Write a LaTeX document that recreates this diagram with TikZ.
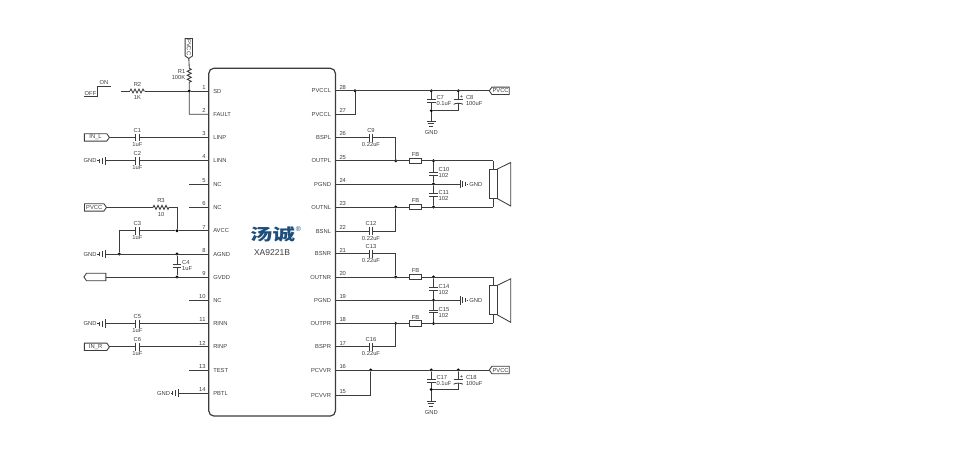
\documentclass[tikz,border=0pt]{standalone}
\usepackage{fontspec}
\setmainfont{Liberation Sans}
\newfontfamily\cjk{Noto Sans CJK SC}
\usetikzlibrary{shapes.symbols}
\usetikzlibrary{decorations.pathmorphing}
\definecolor{WIRE}{HTML}{3C3C3C}
\definecolor{LOGO}{HTML}{1D4F7C}
\tikzset{
	every node/.style = {font=\fontsize{5.8pt}{6pt}\selectfont, text=WIRE, inner sep=0pt, outer sep=0pt},
	wire/.style = {draw=WIRE, line width=0.85pt},
	lab/.style = {anchor=center},
	labw/.style = {anchor=west},
	dot/.style = {circle, fill=black, minimum size=3.2pt},
	tag/.style = {signal, draw=WIRE, line width=0.85pt, signal from=nowhere, signal pointer angle=110, minimum height=7.4pt, font=\fontsize{5.8pt}{6pt}\selectfont},
	fbbox/.style = {rectangle, draw=WIRE, line width=0.85pt, fill=white, minimum width=12.4pt, minimum height=5.6pt},
	res/.style = {wire, decorate, decoration={zigzag, segment length=4pt, amplitude=2pt}}
}
% ground bars, along +x before turning
\newcommand{\gndbars}[3]{
	\begin{scope}[shift={(#1,#2)}, rotate=#3]
		\draw[wire] (0,-4.2) -- (0,4.2) (2.9,-3) -- (2.9,3) (5.6,-2) -- (5.6,2);
	\end{scope}
}
\begin{document}
\begin{tikzpicture}[x=1pt, y=-1pt]
		\useasboundingbox (0,0) rectangle (959,461);
		% chip outline
		\draw[draw=WIRE, line width=1.2pt, rounded corners=5pt] (208.8,68.3) rectangle (335.4,416);
		\node[font=\cjk\bfseries\fontsize{16pt}{16pt}\selectfont, text=LOGO, xscale=1.4] (logo) at (272.5,234) {汤诚};
		\node[font=\fontsize{7pt}{7pt}\selectfont, text=LOGO] (reg) at (298.5,229) {®};
		\node[font=\fontsize{8.5pt}{9pt}\selectfont] (part) at (272,252.7) {XA9221B};
		% pins left
		\foreach \n/\yy/\pin in {1/91/SD, 2/114.2/FAULT, 3/137.4/LINP, 4/160.7/LINN, 5/184/NC, 6/207.4/NC, 7/230.8/AVCC,
			8/254/AGND, 9/277/GVDD, 10/300.3/NC, 11/323.6/RINN, 12/346.8/RINP, 13/370/TEST, 14/393.2/PBTL}{
			\coordinate (L\n) at (208.8,\yy);
			\node[anchor=base east] (Ln\n) at (205.5,\yy-1.8) {\n};
			\node[anchor=base west] (Lp\n) at (213.3,\yy+2) {\pin};
		}
		% pins right
		\foreach \n/\yy/\pin in {28/90.8/PVCCL, 27/114/PVCCL, 26/137.6/BSPL, 25/160.8/OUTPL, 24/184/PGND, 23/207/OUTNL, 22/231/BSNL,
			21/253.8/BSNR, 20/277/OUTNR, 19/300.3/PGND, 18/323.4/OUTPR, 17/346.8/BSPR, 16/370/PCVVR, 15/395/PCVVR}{
			\coordinate (R\n) at (335.4,\yy);
			\node[anchor=base west] (Rn\n) at (339.5,\yy-1.8) {\n};
			\node[anchor=base east] (Rp\n) at (331,\yy+2) {\pin};
		}
		% caps lying down
		\foreach \nm/\xx/\yy/\val in {C1/137.4/137.4/1uF, C2/137.4/160.7/1uF, C3/137.4/230.8/1uF, C5/137.4/323.6/1uF, C6/137.4/346.8/1uF,
			C9/371/137.6/0.22uF, C12/371/231/0.22uF, C13/371/253.8/0.22uF, C16/371/346.8/0.22uF}{
			\coordinate (\nm a) at (\xx-1.6,\yy);
			\coordinate (\nm b) at (\xx+1.6,\yy);
			\draw[wire] (\xx-1.6,\yy-3.9) -- (\xx-1.6,\yy+3.9) (\xx+1.6,\yy-3.9) -- (\xx+1.6,\yy+3.9);
			\node[lab] (\nm n) at (\xx,\yy-7.3) {\nm};
			\node[lab] (\nm v) at (\xx,\yy+7) {\val};
		}
		% caps standing
		\foreach \nm/\xx/\yy/\yl/\val in {C4/177/266/262.7/1uF, C7/431.3/100.8/98/0.1uF, C10/433.5/173.8/169.6/102, C11/433.5/195.2/192.4/102,
			C14/433.5/288.8/286/102, C15/433.5/311.5/309/102, C17/431.3/380.8/377.6/0.1uF}{
			\coordinate (\nm a) at (\xx,\yy-1.4);
			\coordinate (\nm b) at (\xx,\yy+1.4);
			\draw[wire] (\xx-4.3,\yy-1.4) -- (\xx+4.3,\yy-1.4) (\xx-4.3,\yy+1.4) -- (\xx+4.3,\yy+1.4);
			\node[labw] (\nm n) at (\xx+5.2,\yl) {\nm};
			\node[labw] (\nm v) at (\xx+5.2,\yl+6) {\val};
		}
		% polar caps
		\foreach \nm/\yy in {C8/101.3, C18/381.2}{
			\coordinate (\nm a) at (458.3,\yy-1.4);
			\coordinate (\nm b) at (458.3,\yy+2);
			\draw[wire] (453.6,\yy-1.4) -- (463,\yy-1.4);
			\draw[wire] (453.6,\yy+3) .. controls (456,\yy+1.6) and (460.6,\yy+1.6) .. (463,\yy+3);
			\node[font=\fontsize{5pt}{5pt}\selectfont\bfseries] (\nm p) at (461.7,\yy-4.6) {+};
			\node[labw] (\nm n) at (466,\yy-3.3) {\nm};
		}
		\node[labw] (C8v) at (466,103.9) {100uF};
		\node[labw] (C18v) at (466,383.8) {100uF};
		% resistors
		\coordinate (R1a) at (189.3,68.3);
		\coordinate (R1b) at (189.3,82.8);
		\coordinate (R2a) at (130,91);
		\coordinate (R2b) at (145,91);
		\coordinate (R3a) at (153,207.4);
		\coordinate (R3b) at (169,207.4);
		\draw[res] (R1a) -- (R1b);
		\draw[res] (R2a) -- (R2b);
		\draw[res] (R3a) -- (R3b);
		\node[anchor=east] (R1n) at (185.3,71.5) {R1};
		\node[anchor=east] (R1v) at (185.3,78) {100K};
		\node[lab] (R2n) at (137.5,84) {R2};
		\node[lab] (R2v) at (137.5,97.5) {1K};
		\node[lab] (R3n) at (161,200) {R3};
		\node[lab] (R3v) at (161,214.5) {10};
		% signal tags
		\node[tag, signal to=east, rotate=-90, minimum width=20pt] (PVtop) at (188.8,47.2) {PVCC};
		\node[tag, signal to=east, minimum width=25pt] (INL) at (95.6,137.4) {IN\_L};
		\node[tag, signal to=east, minimum width=22pt] (PVl) at (94.2,207.4) {PVCC};
		\node[tag, signal to=west, minimum width=22pt] (VDD) at (96.2,277) {};
		\node[tag, signal to=east, minimum width=25pt] (INR) at (95.6,346.8) {IN\_R};
		\node[tag, signal to=west, minimum width=20pt] (PVa) at (500.6,90.8) {PVCC};
		\node[tag, signal to=west, minimum width=20pt] (PVb) at (500.6,370) {PVCC};
		% ground, bars to the left
		\foreach \nm/\xx/\yy in {G2/105/160.7, G8/105/254, G11/105/323.6, G14/178.4/393.2}{
			\coordinate (\nm) at (\xx,\yy);
			\coordinate (\nm s) at (\xx-5.6,\yy);
			\gndbars{\xx}{\yy}{180}
			\node[anchor=east] (\nm t) at (\xx-8.4,\yy) {GND};
			\draw[wire] (\nm s) ++(-2.2,0) -- ++(1.4,0);
		}
		% ground, bars to the right
		\foreach \nm/\yy in {G24/184, G19/300.3}{
			\coordinate (\nm) at (460,\yy);
			\gndbars{460}{\yy}{0}
			\node[labw] (\nm t) at (469.4,\yy) {GND};
			\draw[wire] (466.6,\yy) -- (468,\yy);
		}
		% ground, bars downward
		\foreach \nm/\xx/\yy/\yt in {G7/431.3/121/133, G17/431.3/401/412}{
			\coordinate (\nm) at (\xx,\yy);
			\gndbars{\xx}{\yy}{-90}
			\node[lab] (\nm t) at (\xx,\yt) {GND};
		}
		% on off
		\coordinate (SWa) at (84,96.7);
		\coordinate (SWb) at (97,96.7);
		\coordinate (SWc) at (97,86);
		\coordinate (SWd) at (110.7,86);
		\draw[wire] (SWa) -- (SWb) -- (SWc) -- (SWd);
		\node[anchor=base] (OFF) at (90.5,95.6) {OFF};
		\node[anchor=base] (ON) at (104,84.8) {ON};
		% free pins
		\foreach \n in {5,6,10,13}{
			\draw[wire] (L\n) -- ++(-19.5,0);
		}
		% junctions
		\foreach \nm/\xx/\yy in {J1/189.3/91, J7/177/230.8, J8a/119.3/254, J8b/177/254, J9/177/277,
			J28/355/90.8, J28a/431.3/90.8, J28b/458.3/90.8, J7b/431.3/110.7,
			J25/395.7/160.8, J25a/433.5/160.8, J24/433.5/184, J23/395.7/207, J23a/433.5/207,
			J20/395.7/277, J20a/433.5/277, J19/433.5/300.3, J18/395.7/323.4, J18a/433.5/323.4,
			J16/370.7/370, J16a/431.3/370, J16b/458.3/370, J17b/431.3/389.5}{
			\node[dot] (\nm) at (\xx,\yy) {};
		}
		% left wires
		\coordinate (R2w) at (121,91);
		\draw[wire] (R2w) -- (R2a) (R2b) -- (J1) -- (L1);
		\draw[wire] (PVtop.east) -- (R1a) (R1b) -- (J1) (J1.center) |- (L2);
		\draw[wire] (INL.east) -- (C1a) (C1b) -- (L3);
		\draw[wire] (G2) -- (C2a) (C2b) -- (L4);
		\draw[wire] (PVl.east) -- (R3a) (R3b) -| (J7);
		\draw[wire] (J7) -- (L7) (J7) -- (C3b) (C3a) -| (J8a);
		\draw[wire] (G8) -- (L8);
		\draw[wire] (J8b) -- (C4a) (C4b) -- (J9);
		\draw[wire] (VDD.east) -- (L9);
		\draw[wire] (G11) -- (C5a) (C5b) -- (L11);
		\draw[wire] (INR.east) -- (C6a) (C6b) -- (L12);
		\draw[wire] (G14) -- (L14);
		% top supply
		\draw[wire] (R28) -- (PVa.west);
		\draw[wire] (R27) -| (J28);
		\draw[wire] (J28a) -- (C7a) (C7b) -- (J7b) -- (G7);
		\draw[wire] (J28b) -- (C8a) (C8b) |- (J7b);
		% left speaker channel
		\draw[wire] (R26) -- (C9a) (C9b) -| (J25);
		\draw[wire] (R22) -- (C12a) (C12b) -| (J23);
		\draw[wire] (R24) -- (G24);
		\draw[wire] (J25a) -- (C10a) (C10b) -- (J24) -- (C11a) (C11b) -- (J23a);
		% right speaker channel
		\draw[wire] (R21) -- (C13a) (C13b) -| (J20);
		\draw[wire] (R17) -- (C16a) (C16b) -| (J18);
		\draw[wire] (R19) -- (G19);
		\draw[wire] (J20a) -- (C14a) (C14b) -- (J19) -- (C15a) (C15b) -- (J18a);
		% bottom supply
		\draw[wire] (R16) -- (PVb.west);
		\draw[wire] (R15) -| (J16);
		\draw[wire] (J16a) -- (C17a) (C17b) -- (J17b) -- (G17);
		\draw[wire] (J16b) -- (C18a) (C18b) |- (J17b);
		% speakers
		\foreach \sp/\yy/\ya/\yb in {A/169/160.8/207, B/285.3/277/323.4}{
			\draw[wire] (489.4,\yy) rectangle (497.4,\yy+29.6);
			\draw[wire] (497.4,\yy) -- (510.7,\yy-6.5) -- (510.7,\yy+37) -- (497.4,\yy+29.6);
			\coordinate (SP\sp a) at (493.3,\yy);
			\coordinate (SP\sp b) at (493.3,\yy+29.6);
			\coordinate (SP\sp c) at (493.3,\ya);
			\coordinate (SP\sp d) at (493.3,\yb);
			\draw[wire] (SP\sp a) -- (SP\sp c) (SP\sp b) -- (SP\sp d);
		}
		% ferrite beads
		\foreach \nm/\yy in {FBa/160.8, FBb/207, FBc/277, FBd/323.4}{
			\node[fbbox] (\nm) at (415.5,\yy) {};
			\node[lab] (\nm t) at (415.5,\yy-6.4) {FB};
		}
		\draw[wire] (R25) -- (FBa.west) (FBa.east) -- (SPAc);
		\draw[wire] (R23) -- (FBb.west) (FBb.east) -- (SPAd);
		\draw[wire] (R20) -- (FBc.west) (FBc.east) -- (SPBc);
		\draw[wire] (R18) -- (FBd.west) (FBd.east) -- (SPBd);
	\end{tikzpicture}
\end{document}
